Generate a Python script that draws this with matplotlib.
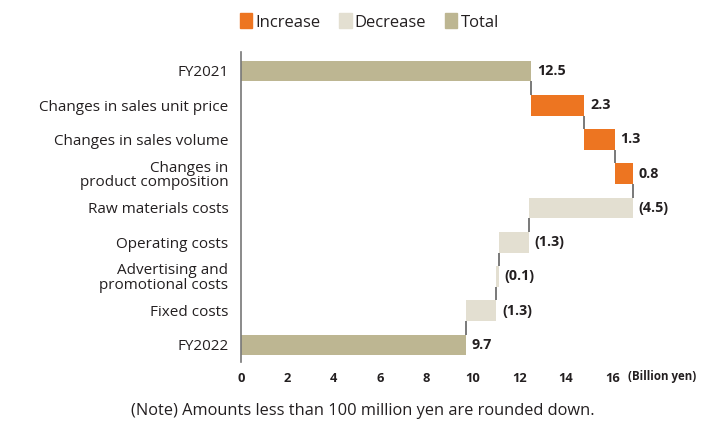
import numpy as np
import matplotlib
matplotlib.use('Agg')
from matplotlib import pyplot as plt
from matplotlib.patches import Patch

plt.rcParams['font.family'] = ['Open Sans', 'DejaVu Sans']

categories = ['FY2021', 'Changes in sales unit price', 'Changes in sales volume',
              'Changes in\nproduct composition', 'Raw materials costs', 'Operating costs',
              'Advertising and\npromotional costs', 'Fixed costs', 'FY2022']
changes = [12.5, 2.3, 1.3, 0.8, -4.5, -1.3, -0.1, -1.3, 9.7]
kinds = ['total', 'inc', 'inc', 'inc', 'dec', 'dec', 'dec', 'dec', 'total']
value_labels = ['12.5', '2.3', '1.3', '0.8', '(4.5)', '(1.3)', '(0.1)', '(1.3)', '9.7']
xticks = [0, 2, 4, 6, 8, 10, 12, 14, 16]

colors = {'inc': '#ED7521', 'dec': '#E3DFD1', 'total': '#BDB692'}
text_color = '#231F20'

fig = plt.figure(figsize=(7.25, 4.24), dpi=100)
ax = fig.add_axes([0.3324, 0.146, 0.56, 0.731])

bar_h = 0.6
running = 0.0
ends = []
for i, (val, kind) in enumerate(zip(changes, kinds)):
    if kind == 'total':
        left, width = 0.0, val
        running = val
    else:
        left, width = running, val
        running = running + val
    ax.barh(i, width, left=left, height=bar_h, color=colors[kind], edgecolor='none')
    ends.append(running)
    right_edge = max(left, left + width)
    ax.text(right_edge + 0.25, i, value_labels[i], ha='left', va='center',
            fontsize=10.3, fontweight='bold', color=text_color)

# connectors between consecutive bars
for i in range(len(changes) - 1):
    ax.plot([ends[i], ends[i]], [i + bar_h / 2, i + 1 - bar_h / 2],
            color='#555555', lw=1.1, solid_capstyle='butt')

ax.set_ylim(len(categories) - 0.5, -0.55)
ax.set_xlim(0, 17.5)
ax.set_yticks(range(len(categories)))
ax.set_yticklabels(categories, fontsize=11, color=text_color, linespacing=0.95)
ax.set_xticks(xticks)
ax.set_xticklabels([str(t) for t in xticks], fontsize=9.3, fontweight='bold', color=text_color)
ax.tick_params(axis='both', length=0)
ax.tick_params(axis='y', pad=9)
ax.tick_params(axis='x', pad=7)
for side in ['top', 'right', 'bottom']:
    ax.spines[side].set_visible(False)
ax.spines['left'].set_color('#777777')
ax.spines['left'].set_linewidth(1.2)

fig.text(0.866, 0.113, '(Billion yen)', fontsize=8.3, fontweight='bold',
         color=text_color, ha='left', va='center')

handles = [Patch(color=colors['inc'], label='Increase'),
           Patch(color=colors['dec'], label='Decrease'),
           Patch(color=colors['total'], label='Total')]
fig.legend(handles=handles, loc='center left', bbox_to_anchor=(0.310, 0.948), ncol=3,
           frameon=False, fontsize=12, handlelength=0.75, handleheight=1.0,
           handletextpad=0.2, columnspacing=1.1, labelcolor=text_color)

fig.text(0.5, 0.03, '(Note) Amounts less than 100 million yen are rounded down.',
         fontsize=11.8, color=text_color, ha='center', va='center')

fig.savefig('out.png', dpi=100)
